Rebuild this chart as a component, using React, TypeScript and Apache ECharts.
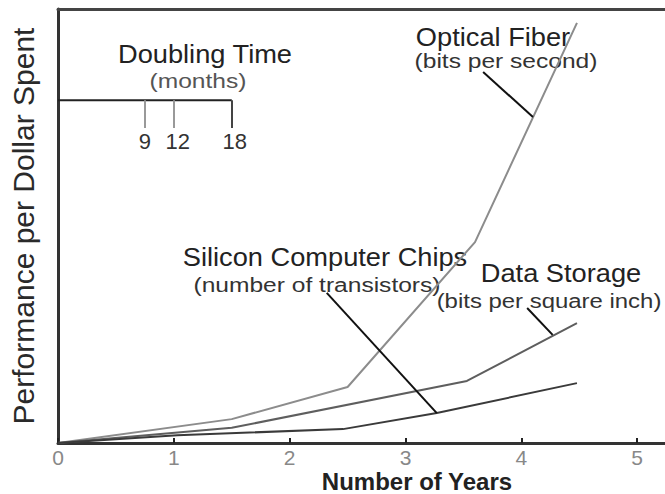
import React, { useEffect, useRef } from "react";
import * as echarts from "echarts";

// Years on the x axis, performance (relative, 0-100) on the y axis
const opticalFiber: [number, number][] = [[0, 0], [1.5, 5.5], [2.5, 12.9], [3.6, 46.3], [4.48, 96.8]];
const dataStorage: [number, number][] = [[0, 0], [1.5, 3.5], [3.53, 14.3], [4.48, 27.6]];
const siliconChips: [number, number][] = [[0, 0], [1.03, 1.8], [2.46, 3.2], [3.27, 6.9], [4.48, 13.8]];

// Label pointer segments (from label to line)
const opticalPointer: [number, number][] = [[3.67, 85.5], [4.1, 75.1]];
const siliconPointer: [number, number][] = [[2.32, 34.6], [3.27, 6.9]];
const storagePointer: [number, number][] = [[4.05, 31.1], [4.27, 24.9]];

// Doubling time inset (months)
const doublingMonths = [9, 12, 18];
const doublingLevel = 79;
const doublingTickEnd = 72.6;

const xTicks = [0, 1, 2, 3, 4, 5];

export default function App() {
  const ref = useRef<HTMLDivElement>(null);
  useEffect(() => {
    if (!ref.current) return;
    const chart = echarts.init(ref.current, null, { renderer: "svg" });
    const font = "'Liberation Sans', Arial, Helvetica, sans-serif";
    const seg = (p: [number, number][]) => [{ coord: p[0] }, { coord: p[1] }];
    const pointerStyle = { color: "#111", width: 2, type: "solid" as const };
    const maxMonths = Math.max(...doublingMonths);
    const title = (text: string, x: number, y: number) => ({
      type: "text", x, y, scaleX: 1.09,
      style: { text, fill: "#222", font: `25px ${font}`, textAlign: "center", textVerticalAlign: "middle" },
    });
    const sub = (text: string, x: number, y: number, fill = "#333", sx = 1.17) => ({
      type: "text", x, y, scaleX: sx,
      style: { text, fill, font: `21px ${font}`, textAlign: "center", textVerticalAlign: "middle" },
    });
    const option: any = {
      animation: false,
      backgroundColor: "#ffffff",
      textStyle: { fontFamily: font },
      grid: { left: 58, right: 0, top: 9, bottom: 51, containLabel: false, outerBoundsMode: "none" },
      xAxis: [
        {
          type: "value",
          min: 0,
          max: 5.24,
          interval: 1,
          axisLine: { show: true, lineStyle: { color: "#333", width: 3 } },
          axisTick: { show: true, inside: true, length: 5, lineStyle: { color: "#222", width: 2 } },
          axisLabel: {
            color: "#888",
            fontSize: 21,
            margin: 4,
            fontFamily: font,
            showMaxLabel: false,
            formatter: (v: number) => (xTicks.includes(v) ? String(v) : ""),
          },
          splitLine: { show: false },
        },
        {
          type: "value",
          position: "top",
          min: 0,
          max: 5.24,
          interval: 1,
          axisLine: { show: true, lineStyle: { color: "#444", width: 3 } },
          axisTick: { show: false },
          axisLabel: { show: false },
          splitLine: { show: false },
        },
      ],
      yAxis: {
        type: "value",
        min: 0,
        max: 100,
        name: "Performance per Dollar Spent",
        nameLocation: "middle",
        nameGap: 20,
        nameTextStyle: { fontSize: 30, color: "#2a2a2a", fontFamily: font },
        axisLine: { show: true, lineStyle: { color: "#333", width: 3 } },
        axisTick: { show: false },
        axisLabel: { show: false },
        splitLine: { show: false },
      },
      series: [
        {
          name: "Optical Fiber",
          type: "line",
          data: opticalFiber,
          symbol: "none",
          lineStyle: { color: "#8c8c8c", width: 2 },
          markLine: { silent: true, symbol: ["none", "none"], label: { show: false }, lineStyle: pointerStyle, data: [seg(opticalPointer)] },
        },
        {
          name: "Data Storage",
          type: "line",
          data: dataStorage,
          symbol: "none",
          lineStyle: { color: "#5e5e5e", width: 2 },
          markLine: { silent: true, symbol: ["none", "none"], label: { show: false }, lineStyle: pointerStyle, data: [seg(storagePointer)] },
        },
        {
          name: "Silicon Computer Chips",
          type: "line",
          data: siliconChips,
          symbol: "none",
          lineStyle: { color: "#3a3a3a", width: 2 },
          markLine: { silent: true, symbol: ["none", "none"], label: { show: false }, lineStyle: pointerStyle, data: [seg(siliconPointer)] },
        },
        {
          name: "Doubling Time",
          type: "line",
          data: [[0, doublingLevel], [maxMonths / 12, doublingLevel]],
          symbol: "none",
          lineStyle: { color: "#222", width: 2 },
          markLine: {
            silent: true,
            symbol: ["none", "none"],
            data: doublingMonths.map((m) => [
              {
                coord: [m / 12, doublingLevel],
                lineStyle: { color: m === maxMonths ? "#444" : "#999", width: 2, type: "solid" },
                label: {
                  show: true,
                  position: "end",
                  distance: 3,
                  formatter: String(m),
                  color: "#333",
                  fontSize: 22,
                  fontFamily: font,
                  offset: [m === 12 ? 4 : m === 18 ? 3 : 0, 0],
                },
              },
              { coord: [m / 12, doublingTickEnd] },
            ]),
          },
        },
      ],
      graphic: [
        title("Doubling Time", 205, 54),
        sub("(months)", 198, 81, "#555"),
        title("Optical Fiber", 493, 37),
        sub("(bits per second)", 506, 61),
        title("Silicon Computer Chips", 325, 257),
        sub("(number of transistors)", 317, 285),
        title("Data Storage", 561, 273),
        sub("(bits per square inch)", 549, 301, "#333", 1.14),
        {
          type: "text", x: 417, y: 481,
          style: { text: "Number of Years", fill: "#222", font: `bold 24px ${font}`, textAlign: "center", textVerticalAlign: "middle" },
        },
      ],
    };
    chart.setOption(option);
    return () => chart.dispose();
  }, []);
  return <div ref={ref} style={{ width: 665, height: 494, position: "absolute", left: 0, top: 0 }} />;
}
